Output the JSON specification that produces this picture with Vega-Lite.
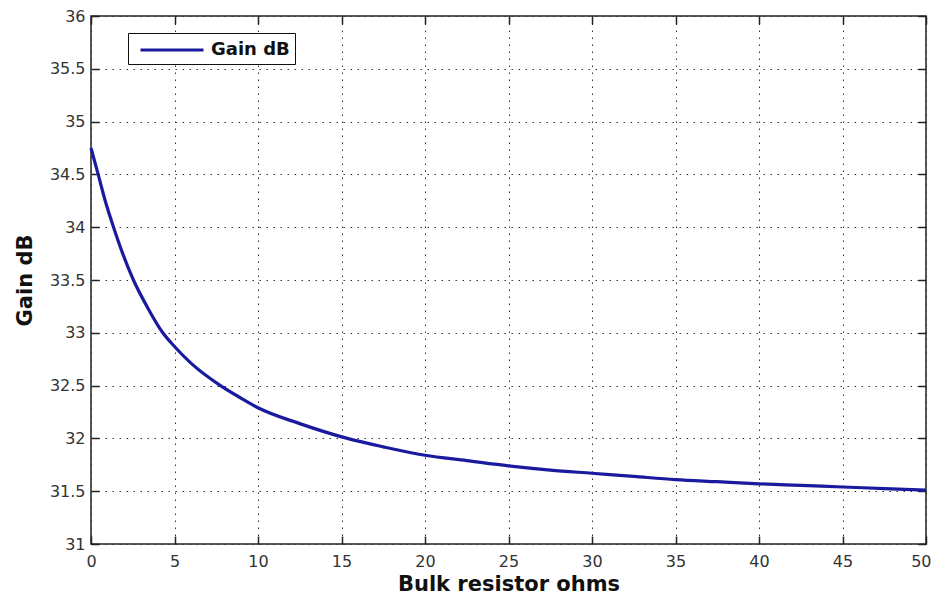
{
  "$schema": "https://vega.github.io/schema/vega-lite/v6.json",
  "width": 835,
  "height": 528,
  "autosize": {"type": "none"},
  "padding": {"left": 91, "top": 16, "right": 9, "bottom": 51},
  "background": "white",
  "config": {
    "view": {"stroke": "#222222", "strokeWidth": 1.5},
    "axis": {
      "labelFont": "DejaVu Sans",
      "labelFontSize": 16,
      "labelColor": "#333333",
      "labelFlush": false,
      "titleFont": "DejaVu Sans",
      "titleFontSize": 21,
      "titleFontWeight": "bold",
      "titleColor": "#111111",
      "domain": false,
      "tickColor": "#222222",
      "tickWidth": 1.5,
      "tickSize": 8,
      "gridColor": "#333333",
      "gridOpacity": 1,
      "gridWidth": 1,
      "gridDash": [1.5, 5.5]
    }
  },
  "data": {
    "values": [
      {"R": 0, "gain": 34.75},
      {"R": 0.43, "gain": 34.5},
      {"R": 0.85, "gain": 34.25},
      {"R": 1.35, "gain": 34.0},
      {"R": 1.9, "gain": 33.75},
      {"R": 2.54, "gain": 33.5},
      {"R": 3.35, "gain": 33.25},
      {"R": 4.3, "gain": 33.0},
      {"R": 5, "gain": 32.87},
      {"R": 6, "gain": 32.71},
      {"R": 7.75, "gain": 32.5},
      {"R": 9, "gain": 32.38},
      {"R": 10, "gain": 32.29},
      {"R": 12.5, "gain": 32.14},
      {"R": 15.35, "gain": 32.0},
      {"R": 17.5, "gain": 31.92},
      {"R": 20, "gain": 31.84},
      {"R": 22.5, "gain": 31.79},
      {"R": 25, "gain": 31.74},
      {"R": 27.5, "gain": 31.7},
      {"R": 30, "gain": 31.67},
      {"R": 32.5, "gain": 31.64},
      {"R": 35, "gain": 31.61},
      {"R": 37.5, "gain": 31.59},
      {"R": 40, "gain": 31.57},
      {"R": 42.5, "gain": 31.555},
      {"R": 45, "gain": 31.54},
      {"R": 47.5, "gain": 31.525},
      {"R": 50, "gain": 31.51}
    ]
  },
  "layer": [
    {
      "description": "dotted grid only",
      "mark": {"type": "line", "opacity": 0},
      "encoding": {
        "x": {
          "field": "R",
          "type": "quantitative",
          "scale": {"domain": [0, 50], "nice": false, "zero": false},
          "axis": {
            "orient": "bottom",
            "values": [0, 5, 10, 15, 20, 25, 30, 35, 40, 45, 50],
            "labels": false,
            "ticks": false,
            "title": null,
            "grid": true
          }
        },
        "y": {
          "field": "gain",
          "type": "quantitative",
          "scale": {"domain": [31, 36], "nice": false, "zero": false},
          "axis": {
            "orient": "left",
            "values": [31, 31.5, 32, 32.5, 33, 33.5, 34, 34.5, 35, 35.5, 36],
            "labels": false,
            "ticks": false,
            "title": null,
            "grid": true
          }
        }
      }
    },
    {
      "description": "gain curve with labelled bottom and left axes, ticks pointing inward",
      "mark": {"type": "line", "strokeWidth": 3.2, "interpolate": "monotone"},
      "encoding": {
        "x": {
          "field": "R",
          "type": "quantitative",
          "scale": {"domain": [0, 50], "nice": false, "zero": false},
          "axis": {
            "orient": "bottom",
            "offset": -8,
            "values": [0, 5, 10, 15, 20, 25, 30, 35, 40, 45, 50],
            "labelFlush": true,
            "labelFlushOffset": 5,
            "labelPadding": 9,
            "title": "Bulk resistor ohms",
            "titlePadding": 4,
            "grid": false
          }
        },
        "y": {
          "field": "gain",
          "type": "quantitative",
          "scale": {"domain": [31, 36], "nice": false, "zero": false},
          "axis": {
            "orient": "left",
            "offset": -8,
            "values": [31, 31.5, 32, 32.5, 33, 33.5, 34, 34.5, 35, 35.5, 36],
            "format": "~g",
            "labelPadding": 6,
            "title": "Gain dB",
            "titlePadding": 14,
            "grid": false
          }
        },
        "color": {
          "datum": "Gain dB",
          "scale": {"range": ["#1a1a9e"]},
          "legend": {
            "orient": "none",
            "legendX": 37,
            "legendY": 17,
            "title": null,
            "direction": "vertical",
            "strokeColor": "#111111",
            "fillColor": "white",
            "padding": 5,
            "symbolType": "M-3,0H3",
            "symbolSize": 441,
            "symbolStrokeWidth": 3,
            "symbolOffset": 27,
            "labelOffset": 27,
            "labelFont": "DejaVu Sans",
            "labelFontWeight": "bold",
            "labelFontSize": 18,
            "labelColor": "#111111"
          }
        }
      }
    },
    {
      "description": "tick marks along the top and right edges",
      "mark": {"type": "line", "opacity": 0},
      "encoding": {
        "x": {
          "field": "R",
          "type": "quantitative",
          "scale": {"domain": [0, 50], "nice": false, "zero": false},
          "axis": {
            "orient": "top",
            "offset": -8,
            "values": [0, 5, 10, 15, 20, 25, 30, 35, 40, 45, 50],
            "labels": false,
            "title": null,
            "grid": false
          }
        },
        "y": {
          "field": "gain",
          "type": "quantitative",
          "scale": {"domain": [31, 36], "nice": false, "zero": false},
          "axis": {
            "orient": "right",
            "offset": -8,
            "values": [31, 31.5, 32, 32.5, 33, 33.5, 34, 34.5, 35, 35.5, 36],
            "labels": false,
            "title": null,
            "grid": false
          }
        }
      }
    }
  ],
  "resolve": {"scale": {"x": "independent", "y": "independent"}}
}
